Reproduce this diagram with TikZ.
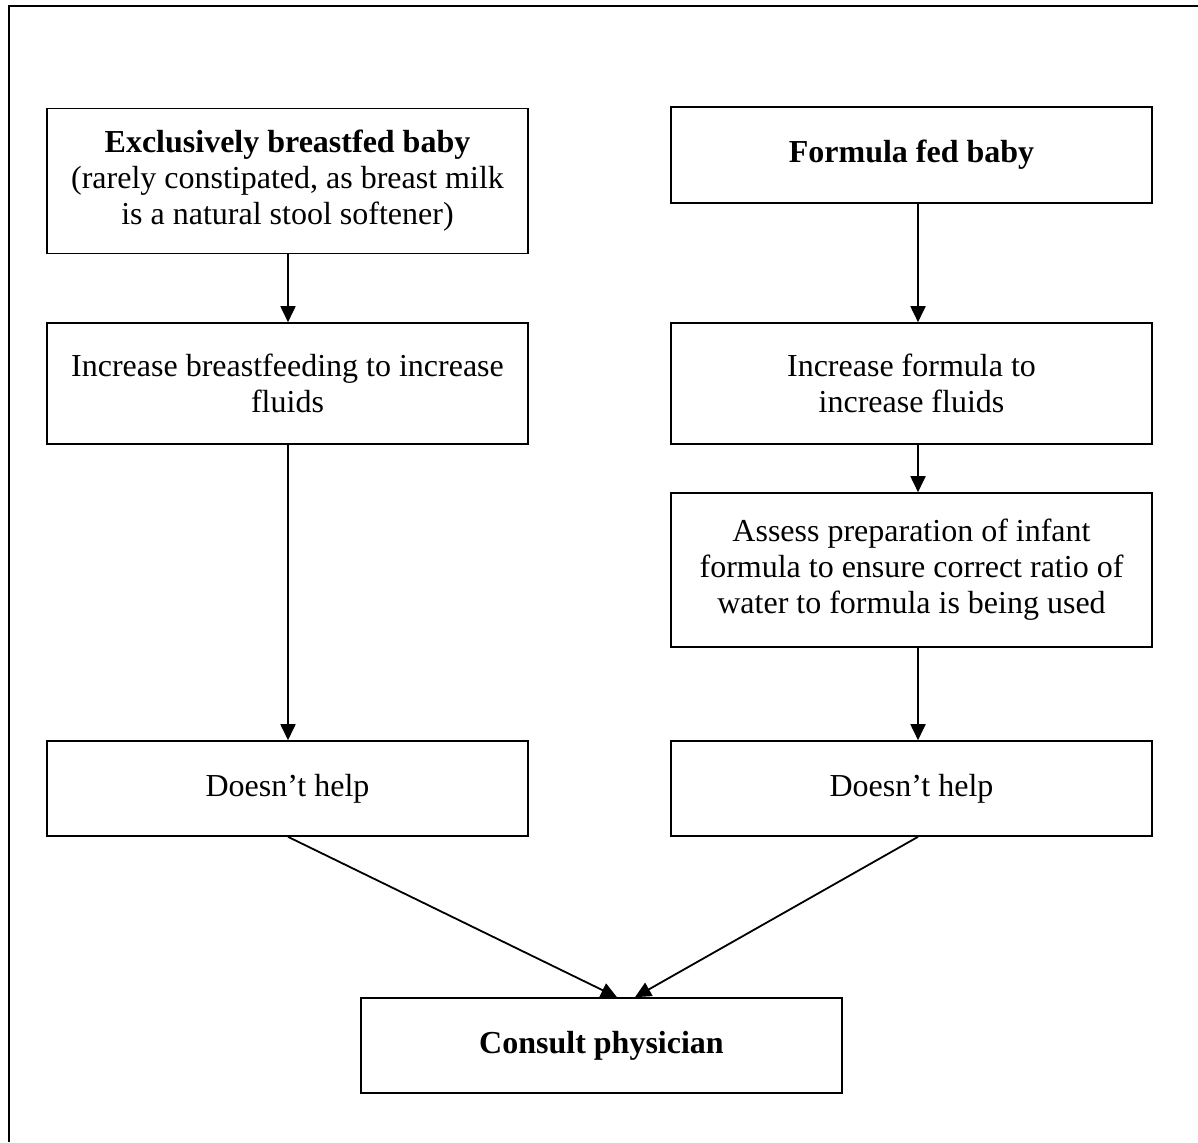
\documentclass[tikz,border=0pt]{standalone}
\usepackage{fontspec}
\setmainfont{Liberation Serif}
\usetikzlibrary{arrows.meta}
\begin{document}
\begin{tikzpicture}[x=0.5pt,y=-0.5pt,
  box/.style={draw, line width=0.8pt, minimum width=240.5pt, inner sep=0pt, align=center, font=\fontsize{16}{18}\selectfont},
  arr/.style={line width=0.9pt, -{Triangle[length=8pt,width=7.5pt]}},
  frame/.style={line width=1.2pt}]
\useasboundingbox (0,0) rectangle (1198,1142);
\draw[frame] (9,1142) -- (9,6) -- (1198,6);
\node[box, minimum height=72.5pt] (a) at (287.5,181) {\textbf{Exclusively breastfed baby}\\(rarely constipated, as breast milk\\is a natural stool softener)};
\node[box, minimum height=48pt] (b) at (911.5,155) {\textbf{Formula fed baby}};
\node[box, minimum height=60.5pt] (c) at (287.5,383.5) {Increase breastfeeding to increase\\fluids};
\node[box, minimum height=60.5pt] (d) at (911.5,383.5) {Increase formula to\\increase fluids};
\node[box, minimum height=77pt] (e) at (911.5,570) {Assess preparation of infant\\formula to ensure correct ratio of\\water to formula is being used};
\node[box, minimum height=47.5pt] (f) at (287.5,788.5) {Doesn’t help};
\node[box, minimum height=47.5pt] (g) at (911.5,788.5) {Doesn’t help};
\node[box, minimum height=47.5pt] (h) at (601.5,1045.5) {\textbf{Consult physician}};
\draw[arr] ([xshift=0.25pt]a.south) -- ([xshift=0.25pt]c.north);
\draw[arr] ([xshift=0.25pt]c.south) -- ([xshift=0.25pt]f.north);
\draw[arr] ([xshift=3.25pt]b.south) -- ([xshift=3.25pt]d.north);
\draw[arr] ([xshift=3.25pt]d.south) -- ([xshift=3.25pt]e.north);
\draw[arr] ([xshift=3.25pt]e.south) -- ([xshift=3.25pt]g.north);
\draw[arr] ([xshift=0.25pt]f.south) -- ([xshift=7.75pt]h.north);
\draw[arr] ([xshift=3.25pt]g.south) -- ([xshift=16.75pt]h.north);
\end{tikzpicture}
\end{document}
